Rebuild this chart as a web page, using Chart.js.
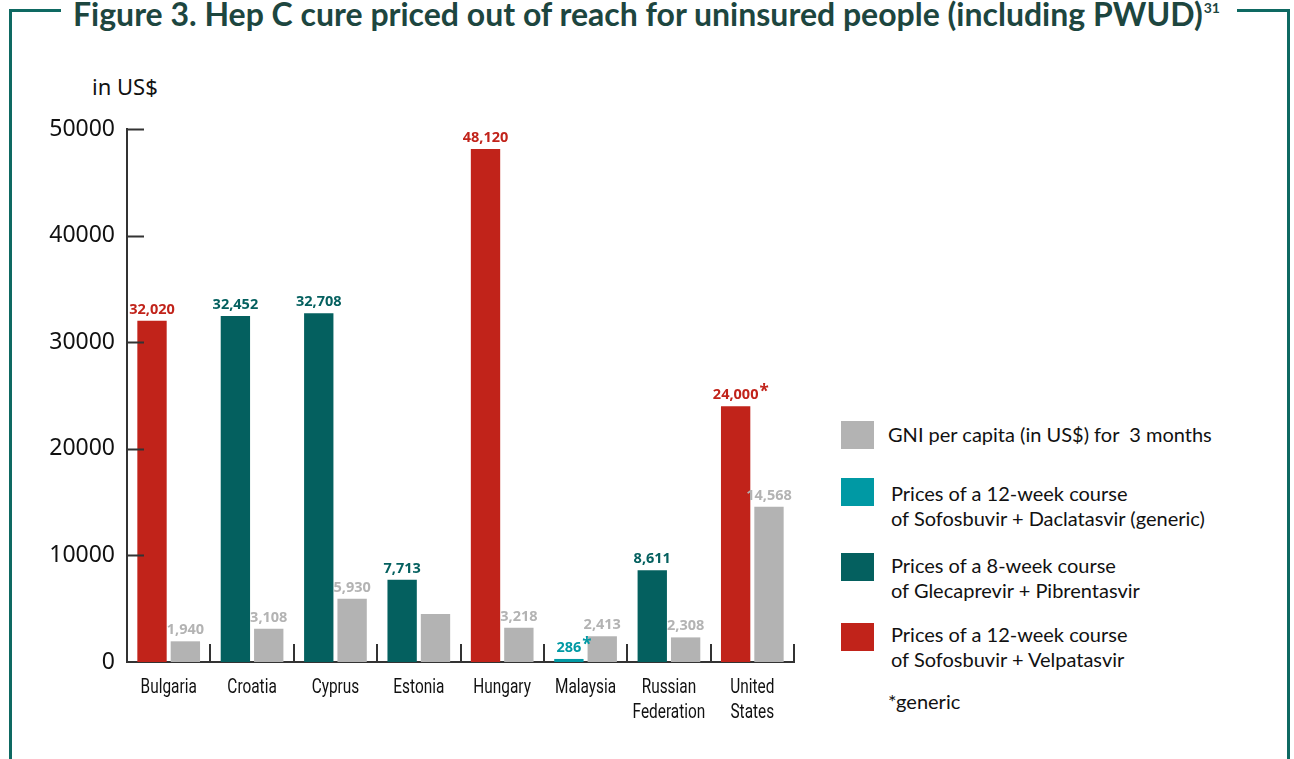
<!DOCTYPE html>
<html>
<head>
<meta charset="utf-8">
<script src="https://cdn.jsdelivr.net/npm/chart.js@4.4.1/dist/chart.umd.min.js"></script>
<style>
  body { margin: 0; width: 1294px; height: 759px; overflow: hidden; position: relative; background: #fff; font-family: Lato, 'Noto Sans', sans-serif; }
  #frame { position: absolute; left: 9px; top: 9px; width: 1281px; height: 800px; border: 3px solid #0e6962; box-sizing: border-box; }
  #title { position: absolute; left: 49px; top: -15px; height: 34px; line-height: 34px; padding: 0 17px 0 12px; background: #fff;
           font-family: Lato, 'Open Sans', sans-serif; font-weight: bold; font-size: 32px; color: #1d463f; white-space: nowrap; }
  #title sup { font-size: 14px; vertical-align: 13px; line-height: 0; margin-left: 1px; }
  #unit { position: absolute; left: 92px; top: 71px; font-family: 'Noto Sans', sans-serif; font-size: 22px; color: #111; }
  #chartBox { position: absolute; left: 0; top: 0; width: 820px; height: 759px; }
  .key { position: absolute; left: 841px; width: 33px; height: 28px; }
  .txt { position: absolute; font-family: Lato, 'Noto Sans', sans-serif; font-size: 20px; color: #111; line-height: 25px; white-space: nowrap; }
</style>
</head>
<body>
<div id="frame"><div id="title">Figure 3. Hep C cure priced out of reach for uninsured people (including PWUD)<sup>31</sup></div></div>
<div id="unit">in US$</div>
<div id="chartBox"><canvas id="hepChart"></canvas></div>

<div class="key" style="top:421px;background:#b3b3b3"></div>
<div class="txt" style="left:888px;top:422px">GNI per capita (in US$) for&nbsp; 3 months</div>

<div class="key" style="top:478px;background:#0099a4"></div>
<div class="txt" style="left:891px;top:481px">Prices of a 12-week course<br>of Sofosbuvir + Daclatasvir (generic)</div>

<div class="key" style="top:553px;background:#04605f"></div>
<div class="txt" style="left:891px;top:553px">Prices of a 8-week course<br>of Glecaprevir + Pibrentasvir</div>

<div class="key" style="top:623px;background:#c1231a"></div>
<div class="txt" style="left:891px;top:622px">Prices of a 12-week course<br>of Sofosbuvir + Velpatasvir</div>

<div class="txt" style="left:888px;top:689px">*generic</div>

<script>
// values
const countries = [['Bulgaria'], ['Croatia'], ['Cyprus'], ['Estonia'], ['Hungary'], ['Malaysia'], ['Russian', 'Federation'], ['United', 'States']];
const coursePrices = [32020, 32452, 32708, 7713, 48120, 286, 8611, 24000];
const courseTypes = ['sv', 'gp', 'gp', 'gp', 'sv', 'sd', 'gp', 'sv'];
const genericPrice = [false, false, false, false, false, true, false, true];
const gniQuarter = [1940, 3108, 5930, 4500, 3218, 2413, 2308, 14568];
const gniLabelled = [true, true, true, false, true, true, true, true];
const yTicks = [0, 10000, 20000, 30000, 40000, 50000];

const typeColors = { sv: '#c1231a', gp: '#04605f', sd: '#0099a4' };
const gniColor = '#b3b3b3';
const axisColor = '#333';

const courseColors = courseTypes.map(t => typeColors[t]);

// value labels above the bars
const barLabels = {
  id: 'barLabels',
  afterDatasetsDraw(chart) {
    const ctx = chart.ctx;
    ctx.save();
    ctx.textBaseline = 'alphabetic';
    chart.data.datasets.forEach((ds, d) => {
      const meta = chart.getDatasetMeta(d);
      meta.data.forEach((bar, i) => {
        if (d === 1 && !gniLabelled[i]) return;
        const txt = ds.data[i].toLocaleString('en-US');
        ctx.fillStyle = d === 0 ? courseColors[i] : gniColor;
        ctx.font = "bold 14.5px 'Open Sans', sans-serif";
        ctx.textAlign = 'center';
        const y = bar.y - 7;
        ctx.fillText(txt, bar.x, y);
        if (d === 0 && genericPrice[i]) {
          const w = ctx.measureText(txt).width;
          ctx.textAlign = 'left';
          ctx.font = "bold 17px 'Open Sans', sans-serif";
          ctx.fillText('*', bar.x + w / 2 + 1, y - 2);
        }
      });
    });
    ctx.restore();
  }
};

// inward tick marks on both axes + condensed category labels
const axisTicks = {
  id: 'axisTicks',
  afterDatasetsDraw(chart) {
    const ctx = chart.ctx;
    const xs = chart.scales.x, ys = chart.scales.y;
    const area = chart.chartArea;
    ctx.save();
    ctx.strokeStyle = axisColor;
    ctx.lineWidth = 2;
    ctx.beginPath();
    yTicks.forEach(v => {
      if (v === 0) return;
      const y = Math.round(ys.getPixelForValue(v)) + 0.5;
      ctx.moveTo(area.left, y);
      ctx.lineTo(area.left + 17, y);
    });
    const step = xs.getPixelForValue(1) - xs.getPixelForValue(0);
    for (let i = 0; i <= countries.length; i++) {
      const x = Math.round(xs.getPixelForValue(0) + (i - 0.5) * step);
      ctx.moveTo(x, area.bottom);
      ctx.lineTo(x, area.bottom - 18);
    }
    ctx.stroke();

    ctx.fillStyle = '#111';
    ctx.font = "20px Roboto, 'Noto Sans', sans-serif";
    ctx.textAlign = 'center';
    ctx.textBaseline = 'middle';
    countries.forEach((lines, i) => {
      const cx = xs.getPixelForValue(i);
      lines.forEach((line, k) => {
        ctx.save();
        ctx.translate(cx, area.bottom + 26 + k * 25);
        ctx.scale(0.77, 1);
        ctx.fillText(line, 0, 0);
        ctx.restore();
      });
    });
    ctx.restore();
  }
};

new Chart(document.getElementById('hepChart'), {
  type: 'bar',
  data: {
    labels: countries,
    datasets: [
      { label: 'Course price', data: coursePrices, backgroundColor: courseColors },
      { label: 'GNI per capita for 3 months', data: gniQuarter, backgroundColor: gniColor }
    ]
  },
  options: {
    responsive: true,
    maintainAspectRatio: false,
    animation: false,
    categoryPercentage: 0.8,
    barPercentage: 0.88,
    layout: { padding: { top: 129, right: 26, left: 0, bottom: 0 } },
    plugins: {
      legend: { display: false },
      tooltip: { enabled: false }
    },
    scales: {
      x: {
        grid: { display: false, drawTicks: false },
        border: { display: true, color: axisColor, width: 2 },
        ticks: { display: false },
        afterFit(scale) { scale.height = 97; }
      },
      y: {
        min: 0,
        max: 50000,
        grid: { display: false, drawTicks: false },
        border: { display: true, color: axisColor, width: 2 },
        ticks: {
          stepSize: 10000,
          color: '#111',
          padding: 12,
          font: { family: "'Noto Sans', sans-serif", size: 23 },
          callback: v => String(v)
        },
        afterFit(scale) { scale.width = 127; }
      }
    }
  },
  plugins: [barLabels, axisTicks]
});
</script>
</body>
</html>
